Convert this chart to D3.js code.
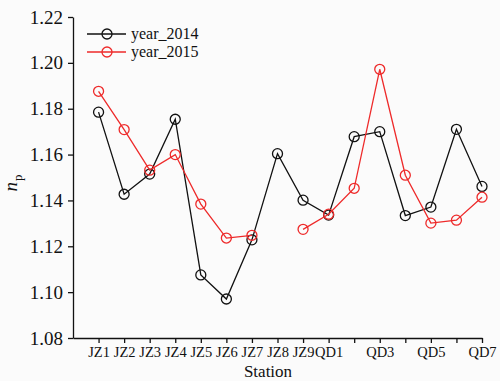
<!DOCTYPE html>
<html>
<head>
<meta charset="utf-8">
<script src="https://cdn.jsdelivr.net/npm/d3@7"></script>
<style>
body { margin: 0; background: #fbfbfb; }
svg { display: block; }
text { font-family: "Liberation Serif", "Times New Roman", serif; fill: #111; }
</style>
</head>
<body>
<div id="chart"></div>
<script>
var stations = ["JZ1","JZ2","JZ3","JZ4","JZ5","JZ6","JZ7","JZ8","JZ9","QD1","QD2","QD3","QD4","QD5","QD6","QD7"];
var tickShown = ["JZ1","JZ2","JZ3","JZ4","JZ5","JZ6","JZ7","JZ8","JZ9","QD1","","QD3","","QD5","","QD7"];
var y2014 = [1.1785,1.1427,1.1515,1.1754,1.1075,1.097,1.1228,1.1604,1.1401,1.1336,1.1678,1.1700,1.1334,1.1371,1.1710,1.1461];
var y2015 = [1.1876,1.1709,1.1532,1.1600,1.1384,1.1236,1.1248,null,1.1274,1.1340,1.1453,1.1972,1.1510,1.1301,1.1314,1.1414];
var yTicks = [1.08,1.10,1.12,1.14,1.16,1.18,1.20,1.22];

var svg = d3.select("#chart")
    .append("svg")
    .attr("width", 500)
    .attr("height", 381);

var x = d3.scaleLinear().domain([-1, 15]).range([73, 482]);
var y = d3.scaleLinear().domain([1.08, 1.22]).range([338, 17]);

// axes
var xAxis = d3.axisBottom(x)
    .tickValues(d3.range(stations.length))
    .tickFormat(function(i){ return tickShown[i]; })
    .tickSize(5)
    .tickSizeOuter(0);
var gx = svg.append("g").attr("transform", "translate(0,338)").call(xAxis);
gx.selectAll("text").style("font-size", "14.5px").attr("y", 8).attr("dy", "0.75em");

var yAxis = d3.axisLeft(y)
    .tickValues(yTicks)
    .tickFormat(d3.format(".2f"))
    .tickSize(5)
    .tickSizeOuter(0);
var gy = svg.append("g").attr("transform", "translate(73,0)").call(yAxis);
gy.selectAll("text").style("font-size", "19px").attr("x", -10);

svg.selectAll(".domain, .tick line").attr("stroke", "#111").attr("stroke-width", 1.3);

// axis titles
svg.append("text")
    .attr("x", 268).attr("y", 377)
    .attr("text-anchor", "middle")
    .style("font-size", "17px")
    .text("Station");

var yl = svg.append("text")
    .attr("transform", "translate(17,183) rotate(-90)")
    .attr("text-anchor", "middle")
    .style("font-size", "19px");
yl.append("tspan").style("font-style", "italic").text("n");
yl.append("tspan").attr("dy", "0.35em").attr("dx", "1").style("font-size", "13px").text("p");

// series
var series = [
  {name: "year_2014", values: y2014, color: "#111"},
  {name: "year_2015", values: y2015, color: "#ee2a2a"}
];

var line = d3.line()
    .defined(function(d){ return d != null; })
    .x(function(d, i){ return x(i); })
    .y(function(d){ return y(d); });

series.forEach(function(s){
  svg.append("path")
    .datum(s.values)
    .attr("d", line)
    .attr("fill", "none")
    .attr("stroke", s.color)
    .attr("stroke-width", 1.3);

  svg.selectAll(null)
    .data(s.values.map(function(v, i){ return {v: v, i: i}; }).filter(function(d){ return d.v != null; }))
    .enter().append("circle")
    .attr("cx", function(d){ return x(d.i); })
    .attr("cy", function(d){ return y(d.v); })
    .attr("r", 5)
    .attr("fill", "none")
    .attr("stroke", s.color)
    .attr("stroke-width", 1.3);
});

// legend
series.forEach(function(s, k){
  var ly = 34 + k * 18;
  svg.append("line")
    .attr("x1", 87).attr("x2", 126)
    .attr("y1", ly).attr("y2", ly)
    .attr("stroke", s.color).attr("stroke-width", 1.3);
  svg.append("circle")
    .attr("cx", 107).attr("cy", ly).attr("r", 5)
    .attr("fill", "none")
    .attr("stroke", s.color).attr("stroke-width", 1.3);
  svg.append("text")
    .attr("x", 131).attr("y", ly + 5)
    .style("font-size", "16px")
    .text(s.name);
});
</script>
</body>
</html>
